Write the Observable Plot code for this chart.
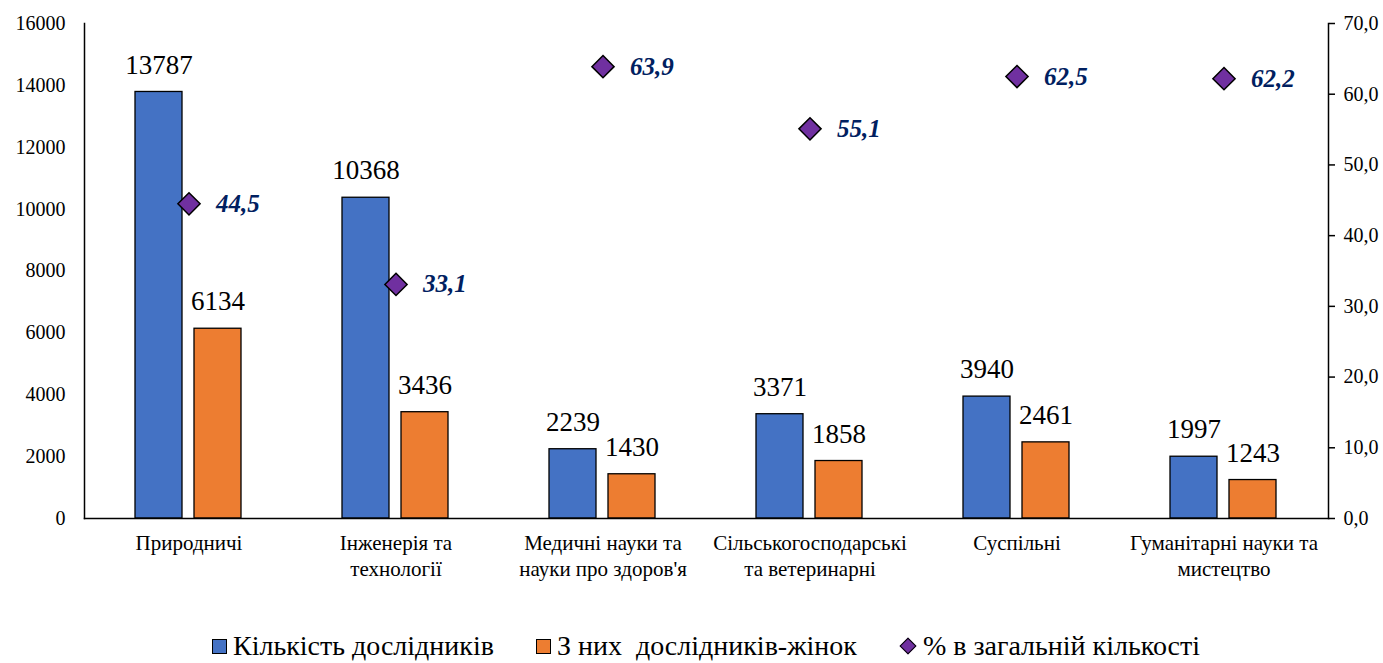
<!DOCTYPE html>
<html>
<head>
<meta charset="utf-8">
<script src="https://cdn.jsdelivr.net/npm/d3@7"></script>
<script src="https://cdn.jsdelivr.net/npm/@observablehq/plot@0.6"></script>
<style>
  body { margin: 0; background: #fff; }
  #legend { display: flex; justify-content: center; align-items: center; padding-left: 84px; padding-right: 55px; margin-top: 31px; height: 30px; font-size: 28px; line-height: 30px; color: #000; }
  .item { display: flex; align-items: center; white-space: pre; margin: 0 21px; }
  .sw { width: 13px; height: 13px; border: 1.5px solid #000; margin-right: 6px; }
  .dia { width: 10px; height: 10px; border: 1.5px solid #000; margin-right: 9px; margin-left: 3px; transform: rotate(45deg); background: #7030A0; }
</style>
</head>
<body>
<div id="chart"></div>
<div id="legend" style="font-family: 'Liberation Serif'"></div>
<script>
const categories = ["Природничі", "Інженерія та технології", "Медичні науки та науки про здоров'я", "Сільськогосподарські та ветеринарні", "Суспільні", "Гуманітарні науки та мистецтво"];
const tickLabels = ["Природничі", "Інженерія та\nтехнології", "Медичні науки та\nнауки про здоров'я", "Сільськогосподарські\nта ветеринарні", "Суспільні", "Гуманітарні науки та\nмистецтво"];
const researchers = [13787, 10368, 2239, 3371, 3940, 1997];
const women = [6134, 3436, 1430, 1858, 2461, 1243];
const womenShare = [44.5, 33.1, 63.9, 55.1, 62.5, 62.2];
const seriesNames = ["Кількість дослідників", "З них  дослідників-жінок", "% в загальній кількості"];
const leftTicks = [0, 2000, 4000, 6000, 8000, 10000, 12000, 14000, 16000];
const rightTicks = [0, 10, 20, 30, 40, 50, 60, 70];

const colors = {blue: "#4472C4", orange: "#ED7D31", purple: "#7030A0", label: "#002060"};
const yMax = 16000, rMax = 70;
const toLeft = v => v * yMax / rMax;

const rows = categories.map((c, i) => ({cat: c, res: researchers[i], wom: women[i], pct: womenShare[i]}));
const labelOf = new Map(categories.map((c, i) => [c, tickLabels[i]]));
const fmt1 = v => v.toFixed(1).replace(".", ",");

const chart = Plot.plot({
  width: 1383,
  height: 600,
  marginLeft: 84,
  marginRight: 55,
  marginTop: 23,
  marginBottom: 82,
  style: {fontFamily: "Liberation Serif"},
  x: {domain: categories, padding: 0},
  y: {domain: [0, yMax]},
  marks: [
    Plot.barY(rows, {x: "cat", y: "res", fill: colors.blue, stroke: "#000", strokeWidth: 1.3, insetLeft: 50, insetRight: 110}),
    Plot.barY(rows, {x: "cat", y: "wom", fill: colors.orange, stroke: "#000", strokeWidth: 1.3, insetLeft: 109, insetRight: 51}),
    Plot.text(rows, {x: "cat", y: "res", text: d => String(d.res), dx: -30, dy: -27, lineAnchor: "middle", fontSize: 27}),
    Plot.text(rows, {x: "cat", y: "wom", text: d => String(d.wom), dx: 29, dy: -27, lineAnchor: "middle", fontSize: 27}),
    Plot.dot(rows, {x: "cat", y: d => toLeft(d.pct), symbol: "diamond2", r: 10, fill: colors.purple, stroke: "#000", strokeWidth: 1.5}),
    Plot.text(rows, {x: "cat", y: d => toLeft(d.pct), text: d => fmt1(d.pct), dx: 27, textAnchor: "start", lineAnchor: "middle", fontSize: 25, fontWeight: "bold", fontStyle: "italic", fill: colors.label}),
    Plot.axisY(leftTicks, {anchor: "left", tickSize: 0, tickPadding: 19, fontSize: 20, label: null, tickFormat: d => String(d)}),
    Plot.axisY(rightTicks.map(toLeft), {anchor: "right", tickSize: 6, tickPadding: 9, fontSize: 20, label: null, strokeWidth: 1.5, tickFormat: d => fmt1(d * rMax / yMax)}),
    Plot.axisX({anchor: "bottom", tickSize: 0, tickPadding: 14, fontSize: 21, label: null, lineHeight: 1.2, tickFormat: d => labelOf.get(d)}),
    Plot.frame({anchor: "left", stroke: "#000", strokeWidth: 1.5}),
    Plot.frame({anchor: "right", stroke: "#000", strokeWidth: 1.5}),
    Plot.frame({anchor: "bottom", stroke: "#000", strokeWidth: 1.5})
  ]
});
document.getElementById("chart").appendChild(chart);

const legend = document.getElementById("legend");
const swatches = [
  {name: seriesNames[0], cls: "sw", bg: colors.blue},
  {name: seriesNames[1], cls: "sw", bg: colors.orange},
  {name: seriesNames[2], cls: "dia", bg: colors.purple}
];
for (const s of swatches) {
  const it = document.createElement("div");
  it.className = "item";
  const sw = document.createElement("div");
  sw.className = s.cls;
  sw.style.background = s.bg;
  const t = document.createElement("span");
  t.textContent = s.name;
  it.appendChild(sw);
  it.appendChild(t);
  legend.appendChild(it);
}
</script>
</body>
</html>
